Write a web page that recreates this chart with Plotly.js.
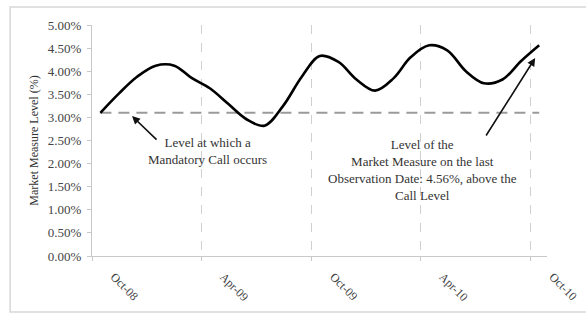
<!DOCTYPE html>
<html>
<head>
<meta charset="utf-8">
<script src="https://cdn.plot.ly/plotly-3.0.1.min.js"></script>
<style>html,body{margin:0;padding:0;background:#fff;}#chart{width:586px;height:314px;}</style>
</head>
<body>
<div id="chart"></div>
<script>
// Observation dates (monthly) and Market Measure levels (%)
const dates = [
  '2008-10-15','2008-11-15','2008-12-15','2009-01-15','2009-02-15','2009-03-15',
  '2009-04-15','2009-05-15','2009-06-15','2009-07-15','2009-08-15','2009-09-15',
  '2009-10-15','2009-11-15','2009-12-15','2010-01-15','2010-02-15','2010-03-15',
  '2010-04-15','2010-05-15','2010-06-15','2010-07-15','2010-08-15','2010-09-15',
  '2010-10-15'
];
const levels = [
  3.10, 3.52, 3.88, 4.12, 4.12, 3.86,
  3.63, 3.30, 2.96, 2.82, 3.25, 3.88,
  4.33, 4.20, 3.82, 3.58, 3.85, 4.30,
  4.56, 4.45, 4.00, 3.74, 3.82, 4.22,
  4.56
];
const callLevel = 3.10;
const callLine = dates.map(() => callLevel);

const tickDates = ['2008-10-01','2009-04-01','2009-10-01','2010-04-01','2010-10-01'];
const tickLabels = ['Oct-08','Apr-09','Oct-09','Apr-10','Oct-10'];
const yTicks = [0,0.5,1,1.5,2,2.5,3,3.5,4,4.5,5];
const yTickLabels = ['0.00%','0.50%','1.00%','1.50%','2.00%','2.50%','3.00%','3.50%','4.00%','4.50%','5.00%'];

const serif = 'Liberation Serif, Times New Roman, serif';

const traces = [
  {x: dates, y: callLine, type: 'scatter', mode: 'lines',
   line: {color: '#9a9a9a', width: 2, dash: '11px,7px'}, hoverinfo: 'skip'},
  {x: dates, y: levels, type: 'scatter', mode: 'lines',
   line: {color: '#000', width: 2.6, shape: 'spline', smoothing: 1}}
];

const layout = {
  width: 586, height: 314,
  margin: {l: 92, r: 39, t: 25, b: 58},
  paper_bgcolor: '#fff', plot_bgcolor: '#fff',
  showlegend: false,
  font: {family: serif, size: 12, color: '#333'},
  xaxis: {
    type: 'date', range: ['2008-10-01', '2010-10-28'],
    tickmode: 'array', tickvals: tickDates, ticktext: tickLabels,
    tickangle: 45, tickfont: {family: serif, size: 12, color: '#444'},
    showgrid: true, gridcolor: '#d0d0d0', griddash: 'dash', gridwidth: 1,
    showline: true, linecolor: '#c8c8c8', linewidth: 1,
    ticks: 'outside', ticklen: 4, tickcolor: '#c8c8c8',
    ticklabelstandoff: 4, ticklabelshift: 22,
    zeroline: false, fixedrange: true
  },
  yaxis: {
    range: [0, 5], tickmode: 'array', tickvals: yTicks, ticktext: yTickLabels,
    tickfont: {family: serif, size: 13, color: '#444'},
    showgrid: false, showline: true, linecolor: '#c8c8c8', linewidth: 1,
    ticks: 'outside', ticklen: 4, tickcolor: '#c8c8c8',
    ticklabelstandoff: 3,
    title: {text: 'Market Measure Level (%)', font: {family: serif, size: 12, color: '#333'}, standoff: 6},
    zeroline: false, fixedrange: true
  },
  shapes: [
    {type: 'rect', xref: 'paper', yref: 'paper', x0: -0.180, x1: 1.095, y0: -0.242, y1: 1.078,
     line: {color: '#d8d8d8', width: 1.5}, fillcolor: 'rgba(0,0,0,0)', layer: 'below'}
  ],
  annotations: [
    {xref: 'paper', yref: 'paper', x: 0.253, y: 0.455, xanchor: 'center', yanchor: 'middle', showarrow: false,
     text: 'Level at which a<br>Mandatory Call occurs', align: 'center',
     font: {family: serif, size: 13, color: '#333'}},
    {xref: 'paper', yref: 'paper', x: 0.727, y: 0.374, xanchor: 'center', yanchor: 'middle', showarrow: false,
     text: 'Level of the<br>Market Measure on the last<br>Observation Date: 4.56%, above the<br>Call Level', align: 'center',
     font: {family: serif, size: 13, color: '#333'}},
    {xref: 'paper', yref: 'paper', x: 0.088, y: 0.606, ax: 26, ay: 25, text: '',
     showarrow: true, arrowhead: 2, arrowsize: 1, arrowwidth: 1.6, arrowcolor: '#111'},
    {xref: 'paper', yref: 'paper', x: 0.974, y: 0.857, ax: -50, ay: 79, text: '',
     showarrow: true, arrowhead: 2, arrowsize: 1, arrowwidth: 1.6, arrowcolor: '#111'}
  ]
};

Plotly.newPlot('chart', traces, layout, {displayModeBar: false, staticPlot: true});
</script>
</body>
</html>
